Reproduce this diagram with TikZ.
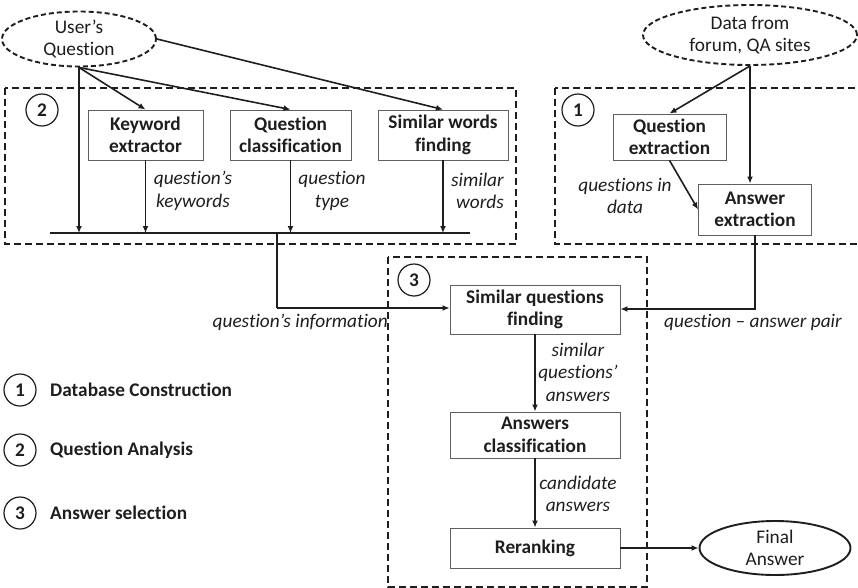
\documentclass[tikz,border=0pt]{standalone}
\usepackage{fontspec}
\setmainfont{Carlito}[Ligatures=CommonOff]
\usetikzlibrary{arrows.meta,shapes.geometric}
\definecolor{ink}{HTML}{1E1E1E}
\definecolor{boxline}{HTML}{606060}
\newcommand{\txt}{\fontsize{19.3}{22.5}\selectfont}
\begin{document}
\begin{tikzpicture}[x=1pt,y=-1pt,
  every node/.style={text=ink,font=\txt},
  stepbox/.style={draw=boxline,line width=0.9pt,align=center,inner sep=0pt,
    minimum height=48pt,font=\txt\bfseries},
  group/.style={draw=ink,line width=1.3pt,dash pattern=on 7pt off 4pt},
  source/.style={ellipse,draw=ink,line width=1.9pt,dash pattern=on 5pt off 3pt,
    align=center,inner sep=0pt},
  tag/.style={circle,draw=ink,line width=1.2pt,minimum size=32pt,inner sep=0pt,
    font=\txt\bfseries},
  note/.style={align=center,inner sep=0pt,font=\txt\itshape},
  arr/.style={draw=ink,line width=1.6pt,-{Latex[length=7pt,width=6pt]}},
  legend/.style={anchor=west,inner sep=0pt,font=\txt\bfseries}]
\useasboundingbox (0,0) rectangle (858,588);

% dashed group frames
\draw[group] (5,88) rectangle (516,244);
\draw[group] (555,88) rectangle (868,244);
\draw[group] (388,257) rectangle (647,587);

% group numbers
\node[tag] (n2) at (42,110) {2};
\node[tag] (n1) at (578,110) {1};
\node[tag] (n3) at (414,280) {3};

% inputs
\node[source,minimum width=154pt,minimum height=55pt] (uq) at (79,39) {User’s\\Question};
\node[source,minimum width=214pt,minimum height=60pt] (data) at (750,35) {Data from\\forum, QA sites};

% question analysis
\node[stepbox,minimum width=115pt,minimum height=50pt] (kw) at (145.5,135) {Keyword\\extractor};
\node[stepbox,minimum width=121pt,minimum height=50pt] (qc) at (290.5,135) {Question\\classification};
\node[stepbox,minimum width=130pt,minimum height=50pt] (sw) at (443,135) {Similar words\\finding};
\coordinate (barL) at (50,233);
\coordinate (barR) at (470,233);
\draw[ink,line width=2pt] (barL) -- (barR);

\draw[arr] (uq.south) -- (uq.south |- barL);
\draw[arr] (uq.south) -- (kw.north);
\draw[arr] (uq.south) -- (qc.north);
\draw[arr] (uq.east) -- (sw.north);
\draw[arr] (kw.south) -- (kw.south |- barL);
\draw[arr] (qc.south) -- (qc.south |- barL);
\draw[arr] (sw.south) -- (sw.south |- barL);

\node[note] (lkw) at (193,191) {question’s\\keywords};
\node[note] (lqc) at (332,191) {question\\type};
\node[note,align=right,anchor=east] (lsw) at (504,191) {similar\\words};

% database construction
\node[stepbox,minimum width=113pt,minimum height=46pt] (qe) at (669.5,137) {Question\\extraction};
\node[stepbox,minimum width=113pt,minimum height=51pt] (ae) at (755,209.5) {Answer\\extraction};
\draw[arr] (data.south) -- (qe.north);
\draw[arr] (data.south) -- (data.south |- ae.north);
\draw[arr] (qe.south) -- (ae.west);
\node[note] (lqe) at (625,196) {questions in\\data};

% answer selection
\node[stepbox,minimum width=170pt,minimum height=49pt] (sq) at (535,309.5) {Similar questions\\finding};
\node[stepbox,minimum width=170pt,minimum height=46pt] (ac) at (535,435) {Answers\\classification};
\node[stepbox,minimum width=170pt,minimum height=40pt] (rr) at (535,548) {Reranking};
\node[ellipse,draw=ink,line width=1.9pt,align=center,inner sep=0pt,
  minimum width=151pt,minimum height=54pt] (fa) at (775,548) {Final\\Answer};

\coordinate (qinfo) at (277,308);
\draw[ink,line width=1.3pt] (277,233) -- (qinfo);
\draw[draw=ink,line width=1.3pt,-{Latex[length=7pt,width=6pt]}] (qinfo) -- (sq.west |- qinfo);
\coordinate (qapair) at (755,309);
\draw[draw=ink,line width=2.2pt,-{Latex[length=7pt,width=6pt]}] (ae.south -| qapair) -- (qapair) -- (sq.east |- qapair);
\draw[arr] (sq.south) -- (ac.north);
\draw[arr] (ac.south) -- (rr.north);
\draw[draw=ink,line width=2.2pt,-{Latex[length=7pt,width=6pt]}] (rr.east) -- (fa.west);

\node[note,anchor=east] (lqi) at (388,322) {question’s information};
\node[note] (lqa) at (753,322) {question – answer pair};
\node[note] (lsq) at (578,372) {similar\\questions’\\answers};
\node[note] (lca) at (578,494) {candidate\\answers};

% legend
\node[tag] (g1) at (20,390) {1};
\node[legend] (t1) at (50,390) {Database Construction};
\node[tag] (g2) at (20,450) {2};
\node[legend] (t2) at (50,450) {Question Analysis};
\node[tag] (g3) at (20,513) {3};
\node[legend] (t3) at (50,513) {Answer selection};
\end{tikzpicture}
\end{document}
